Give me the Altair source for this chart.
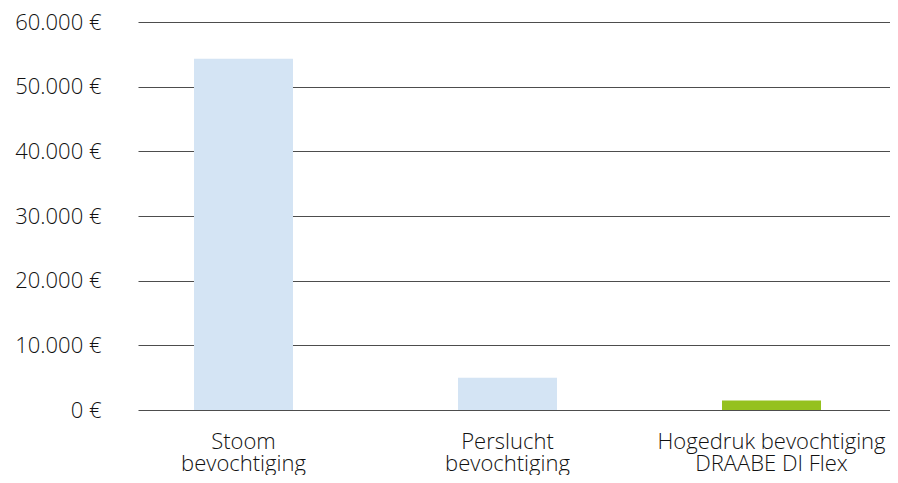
import altair as alt
import pandas as pd

categories = ["Stoom\nbevochtiging", "Perslucht\nbevochtiging", "Hogedruk bevochtiging\nDRAABE DI Flex"]
costs = [54300, 5000, 1450]
groups = ["other", "other", "draabe"]
y_ticks = [0, 10000, 20000, 30000, 40000, 50000, 60000]

df = pd.DataFrame({"cat": categories, "cost": costs, "grp": groups})

FONT = "Open Sans"
TEXT = "#111111"

chart = alt.Chart(df).mark_bar().encode(
    x=alt.X("cat:N", sort=categories, title=None,
            scale=alt.Scale(paddingInner=0.625, paddingOuter=0.2367, align=0.448),
            axis=alt.Axis(labelAngle=0, domain=False, ticks=False, grid=False,
                          labelExpr="split(datum.label, '\\n')",
                          labelFont=FONT, labelFontSize=22, labelFontWeight=300,
                          labelColor=TEXT, labelLineHeight=22, labelPadding=21,
                          labelLimit=400)),
    y=alt.Y("cost:Q", title=None,
            scale=alt.Scale(domain=[0, 60000], nice=False),
            axis=alt.Axis(values=y_ticks, domain=False, ticks=False, grid=True,
                          gridColor="#4d4d4d", gridWidth=1, gridOpacity=1,
                          labelExpr="datum.value == 0 ? '0 €' : format(datum.value/1000, 'd') + '.000 €'",
                          labelFont=FONT, labelFontSize=22, labelFontWeight=300,
                          labelColor=TEXT, labelPadding=37, labelLimit=200)),
    color=alt.Color("grp:N", scale=alt.Scale(domain=["other", "draabe"], range=["#D4E4F4", "#95C11E"]),
                    legend=None),
).properties(
    width=752, height=388,
    autosize=alt.AutoSizeParams(type="none"),
    padding={"left": 130, "top": 14, "right": 0, "bottom": 65},
).configure_view(stroke=None)

chart.save("out.html", embed_options={"renderer": "svg", "actions": False})
